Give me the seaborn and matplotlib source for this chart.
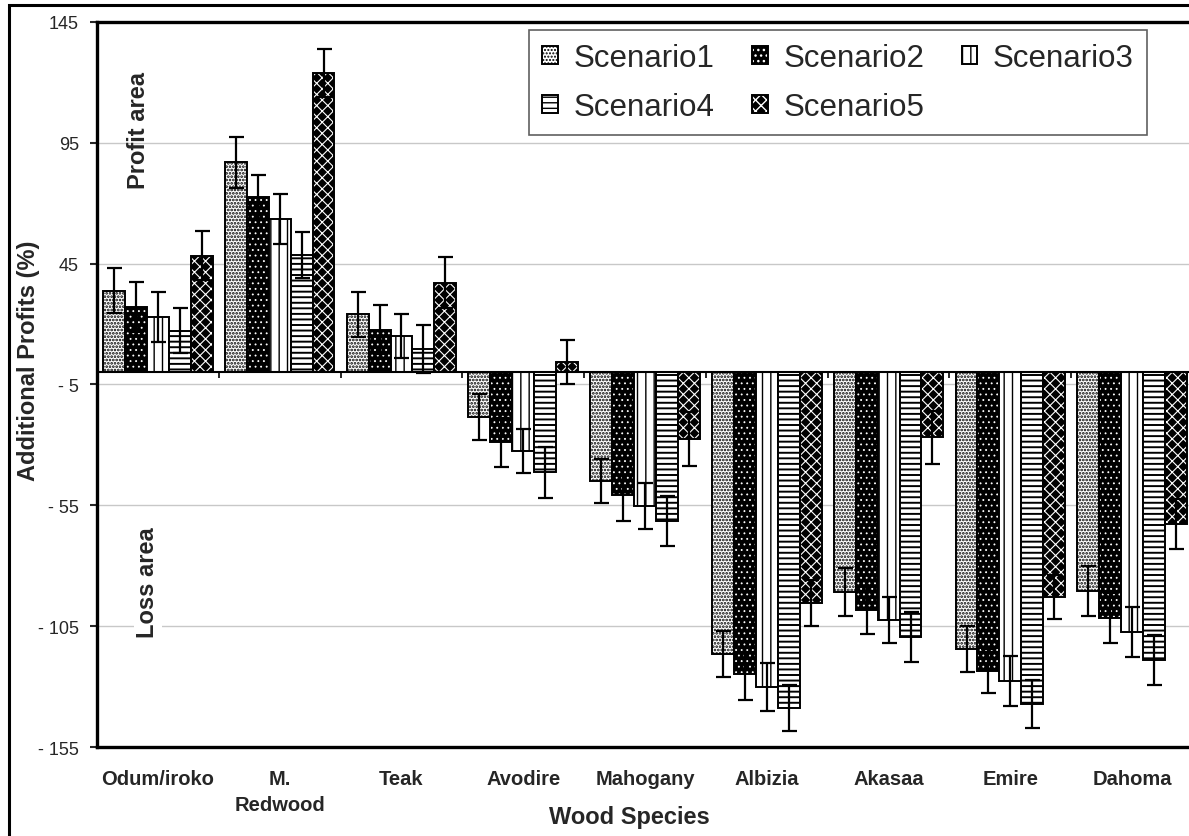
import seaborn as sns
import matplotlib.pyplot as plt
import pandas as pd
from matplotlib.colors import to_rgba
from matplotlib.patches import Rectangle

# dados
species = ["Odum/iroko", "M.\nRedwood", "Teak", "Avodire", "Mahogany",
           "Albizia", "Akasaa", "Emire", "Dahoma"]
scenarios = ["Scenario1", "Scenario2", "Scenario3", "Scenario4", "Scenario5"]

scenario1 = [33.8, 86.9, 24.0, -18.6, -45.0, -116.6, -91.0, -114.5, -90.5]
scenario2 = [26.9, 72.4, 17.7, -29.0, -50.9, -124.8, -98.4, -123.6, -101.7]
scenario3 = [23.0, 63.3, 15.2, -32.7, -55.4, -130.2, -102.5, -127.7, -107.5]
scenario4 = [17.2, 48.5, 9.5, -41.4, -61.6, -138.9, -109.5, -137.2, -119.0]
scenario5 = [48.3, 123.7, 37.1, 4.1, -27.7, -95.5, -26.9, -93.0, -62.8]

err1 = [9.3, 10.5, 9.4, 9.5, 9.2, 9.5, 9.9, 9.5, 10.4]
err2 = [10.3, 9.2, 10.3, 10.3, 10.7, 10.8, 9.9, 9.1, 10.3]
err3 = [10.3, 10.3, 9.1, 9.1, 9.5, 9.9, 9.5, 10.3, 10.3]
err4 = [9.4, 9.5, 9.9, 10.6, 10.4, 9.5, 10.4, 9.9, 10.4]
err5 = [10.3, 9.9, 10.4, 9.1, 11.2, 9.5, 11.1, 9.0, 10.4]

yticks = [145, 95, 45, -5, -55, -105, -155]
ytick_labels = ["145", "95", "45", "- 5", "- 55", "- 105", "- 155"]

values = [scenario1, scenario2, scenario3, scenario4, scenario5]
errors = [err1, err2, err3, err4, err5]

df = pd.DataFrame({
    "species": species * 5,
    "scenario": [s for s in scenarios for _ in species],
    "value": [v for serie in values for v in serie],
})

# estilo visual (preto e branco com hachuras)
fills = ["white", "black", "white", "white", "black"]
hatch_colors = ["black", "white", "black", "black", "white"]
hatches = [".....", "...", "||", "---", "xxx"]
hatch_lw = [1.3, 0.6, 1.0, 1.4, 0.8]

sns.set_theme(style="white")
plt.rcParams["font.family"] = ["Liberation Sans", "DejaVu Sans"]

fig = plt.figure(figsize=(11.89, 8.37), dpi=100)
ax = fig.add_axes([0.0816, 0.1063, 0.9218, 0.8665])

sns.barplot(data=df, x="species", y="value", hue="scenario",
            palette=dict(zip(scenarios, fills)), width=0.9,
            errorbar=None, legend=False, ax=ax, zorder=2)

bar_conts = list(ax.containers)
for i, cont in enumerate(bar_conts):
    xs = []
    for p in cont.patches:
        p.set_facecolor(fills[i])
        p.set_edgecolor("black")
        p.set_linewidth(1.4)
        p.set_hatch(hatches[i])
        p._hatch_color = to_rgba(hatch_colors[i])
        if hasattr(p, "set_hatch_linewidth"):
            p.set_hatch_linewidth(hatch_lw[i])
        else:
            p._hatch_linewidth = hatch_lw[i]
        xs.append(p.get_x() + p.get_width() / 2)
    ax.errorbar(xs, values[i], yerr=errors[i], fmt="none", ecolor="black",
                elinewidth=1.6, capsize=5.4, capthick=1.6, zorder=4)

# linha do zero com marcas entre grupos
ax.axhline(0, color="black", lw=1.5, zorder=3)
ax.vlines([k + 0.5 for k in range(len(species) - 1)], -2.2, 0,
          color="black", lw=1.2, zorder=3)

ax.set_xlim(-0.5, len(species) - 0.5)
ax.set_ylim(-155, 145)
ax.set_yticks(yticks)
ax.set_yticklabels(ytick_labels, fontsize=13)
ax.yaxis.grid(True, color="#c8c8c8", lw=1)
ax.set_axisbelow(True)
ax.tick_params(axis="y", direction="out", length=5, width=1.5, pad=8,
               left=True)
ax.tick_params(axis="x", length=0, pad=16)
for lbl in ax.get_xticklabels():
    lbl.set_fontweight("bold")
    lbl.set_fontsize(14.5)
    lbl.set_verticalalignment("top")
    lbl.set_linespacing(1.45)

for s in ax.spines.values():
    s.set_linewidth(2.4)
    s.set_color("black")

ax.set_ylabel("Additional Profits (%)", fontsize=17, fontweight="bold")
ax.yaxis.set_label_coords(-0.052, 0.534)
ax.set_xlabel("Wood Species", fontsize=17, fontweight="bold")
ax.xaxis.set_label_coords(0.486, -0.080)

ax.text(0.0374, 0.852, "Profit area", transform=ax.transAxes, rotation=90,
        ha="center", va="center", fontsize=17, fontweight="bold")
ax.text(0.0465, 0.2275, "Loss area", transform=ax.transAxes, rotation=90,
        ha="center", va="center", fontsize=17, fontweight="bold",
        bbox=dict(facecolor="white", edgecolor="none", pad=2), zorder=5)

# legenda em 2 linhas (ordem reorganizada para preencher por linha)
order = [0, 3, 1, 4, 2]
leg = ax.legend([bar_conts[k] for k in order],
                [scenarios[k] for k in order],
                ncol=3, loc="upper right", bbox_to_anchor=(0.958, 0.989),
                borderaxespad=0, fontsize=22.5, handlelength=0.5,
                handleheight=0.5, handletextpad=0.5, columnspacing=1.2,
                labelspacing=0.62, borderpad=0.42, fancybox=False,
                framealpha=1, edgecolor="#606060")
leg.get_frame().set_linewidth(1.2)
leg.set_zorder(6)

# moldura da figura
fig.patches.append(Rectangle((8.5 / 1189, -0.05), 1.2, 1.05 - 5.5 / 837,
                             transform=fig.transFigure, fill=False,
                             edgecolor="black", lw=2.2))

fig.savefig("out.png", dpi=100)
